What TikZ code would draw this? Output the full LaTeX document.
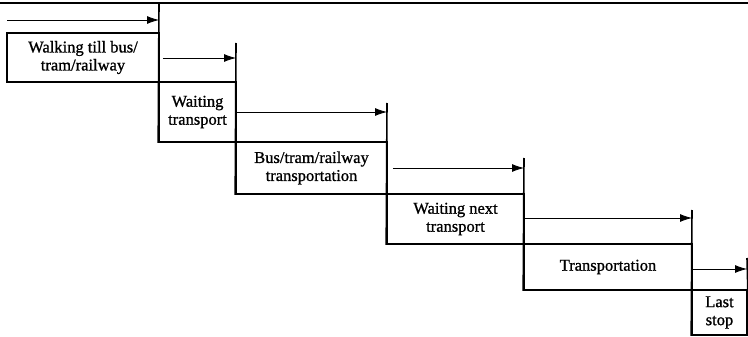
\documentclass[tikz,border=0pt]{standalone}
\usepackage{fontspec}
\setmainfont{Liberation Serif}
\newfontfamily\scanfont{Liberation Serif}[FakeBold=1]
\usetikzlibrary{arrows.meta}
\begin{document}
\begin{tikzpicture}[x=1pt,y=-1pt]
      \tikzset{phase box/.style={rectangle,draw=black,line width=1.6pt,align=center,inner sep=0pt,
          font=\scanfont\fontsize{16.5}{18}\selectfont},
        time arrow/.style={line width=0.8pt,-{Latex[length=12pt,width=8pt]}},
        step line/.style={line width=1.6pt}}
      \useasboundingbox (0,0) rectangle (748,337);
      \draw[step line] (0,3) -- (748,3);
      % the phases, one below the other
      \node[phase box,minimum width=152pt,minimum height=49pt] (walk) at (83,57.5) {Walking till bus/\\tram/railway};
      \node[phase box,minimum width=77pt,minimum height=60pt] (wait) at (197.5,112) {Waiting\\transport};
      \node[phase box,minimum width=151pt,minimum height=52pt] (ride) at (311.5,168) {Bus/tram/railway\\transportation};
      \node[phase box,minimum width=137pt,minimum height=50pt] (next) at (455.5,219) {Waiting next\\transport};
      \node[phase box,minimum width=168pt,minimum height=46pt] (trans) at (608,267) {Transportation};
      \node[phase box,minimum width=55pt,minimum height=45pt] (last) at (719.5,312.5) {Last\\stop};
      % end lines above each phase
      \coordinate (top0) at (7,20);
      \coordinate (top1) at (159,3);
      \coordinate (top2) at (236,43);
      \coordinate (top3) at (387,103);
      \coordinate (top4) at (524,158);
      \coordinate (top5) at (692,210);
      \coordinate (top6) at (747,258);
      \draw[step line] (top1) -- (wait.south west);
      \draw[step line] (top2) -- (ride.south west);
      \draw[step line] (top3) -- (next.south west);
      \draw[step line] (top4) -- (trans.south west);
      \draw[step line] (top5) -- (last.south west);
      \draw[step line] (top6) -- (last.north east);
      % durations
      \draw[time arrow] (top0) -- (top0 -| top1);
      \draw[time arrow] ([xshift=3pt]walk.east |- 0,58) -- (top2 |- 0,58);
      \draw[time arrow] (wait.east |- 0,112) -- (top3 |- 0,112);
      \draw[time arrow] ([xshift=5pt]ride.east |- 0,168) -- (top4 |- 0,168);
      \draw[time arrow] (next.east |- 0,218) -- (top5 |- 0,218);
      \draw[time arrow] (trans.east |- 0,269) -- (top6 |- 0,269);
    \end{tikzpicture}
\end{document}
